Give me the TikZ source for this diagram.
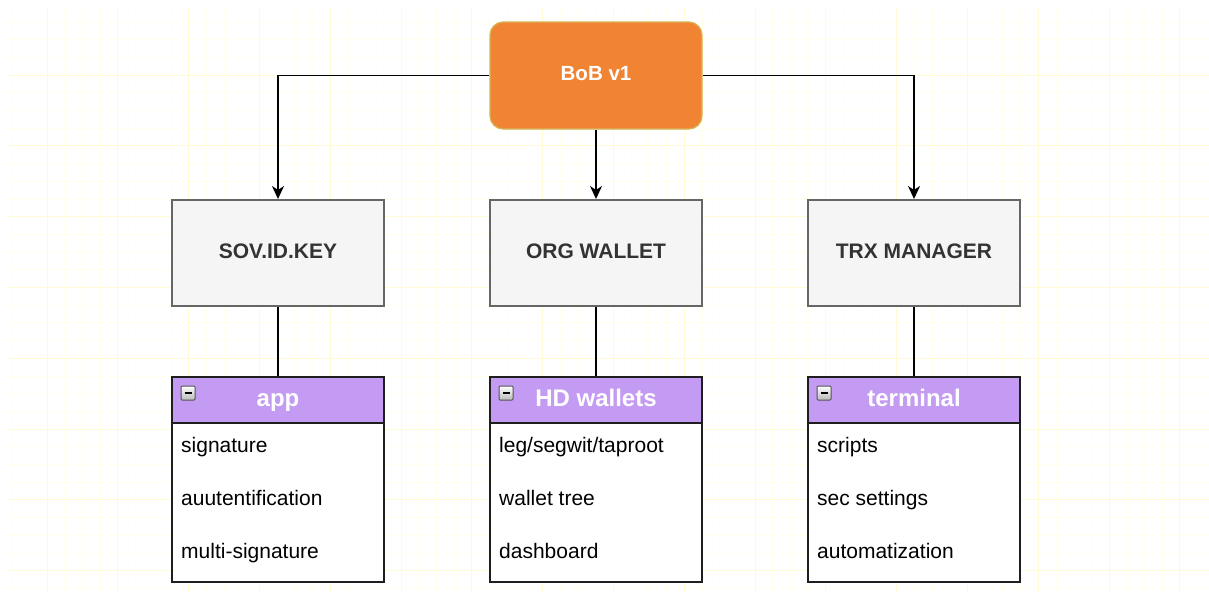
\documentclass[tikz,border=0pt]{standalone}
\usepackage{fontspec}
\setmainfont{Liberation Sans}
\usetikzlibrary{arrows.meta}

\definecolor{bobfill}{RGB}{240,132,51}
\definecolor{bobline}{RGB}{214,182,86}
\definecolor{modfill}{RGB}{245,245,245}
\definecolor{modline}{RGB}{102,102,102}
\definecolor{modtext}{RGB}{51,51,51}
\definecolor{headfill}{RGB}{196,155,242}
\definecolor{listline}{RGB}{30,30,30}
\definecolor{gridminor}{RGB}{255,255,236}
\definecolor{gridmajor}{RGB}{255,252,212}

\tikzset{
  topbox/.style={draw=bobline, fill=bobfill, rounded corners=13pt, line width=1.2pt,
    minimum width=212pt, minimum height=107pt, inner sep=0pt, text=white,
    text height=14.8pt, text depth=4.1pt,
    font=\fontsize{20.5}{24}\selectfont\bfseries},
  modbox/.style={draw=modline, fill=modfill, line width=2pt,
    minimum width=212pt, minimum height=106pt, inner sep=0pt, text=modtext,
    text height=15.1pt, text depth=4.2pt,
    font=\fontsize{21}{25}\selectfont\bfseries},
  listhead/.style={draw=listline, fill=headfill, line width=2pt,
    minimum width=212pt, minimum height=46pt, inner sep=0pt, text=white,
    text height=17.3pt, text depth=4.8pt,
    font=\fontsize{24}{28}\selectfont\bfseries},
  listbody/.style={draw=listline, fill=white, line width=2pt,
    minimum width=212pt, minimum height=159pt, inner sep=0pt},
  listitem/.style={anchor=base west, inner sep=0pt, text=black,
    font=\fontsize{21}{25}\selectfont},
  foldicon/.style={draw=gray!65!black, line width=1pt, top color=white,
    bottom color=gray!55, minimum size=14pt, inner sep=0pt, rounded corners=1pt,
    path picture={\draw[line width=2pt, black]
      ([xshift=3.5pt]path picture bounding box.west) --
      ([xshift=-3.5pt]path picture bounding box.east);}},
  link/.style={line width=1.8pt, black},
  arr/.style={link, -{Stealth[length=13pt, width=12pt, inset=4pt]}},
  gminor/.style={gridminor, line width=0.7pt},
  gmajor/.style={gridmajor, line width=0.9pt},
}

\begin{document}
\begin{tikzpicture}[x=1pt, y=-1pt]
  \useasboundingbox (0,0) rectangle (1209,592);
  \fill[white] (0,0) rectangle (1209,592);

  % background grid
  \foreach \i in {-2,...,65} {
    \pgfmathsetmacro\gx{47+17.7*\i}
    \draw[gminor] (\gx,8) -- (\gx,592);
  }
  \foreach \i in {-3,...,29} {
    \pgfmathsetmacro\gy{75+17.7*\i}
    \draw[gminor] (8,\gy) -- (1209,\gy);
  }
  \foreach \i in {0,...,16} {
    \pgfmathsetmacro\gx{47+70.8*\i}
    \draw[gmajor] (\gx,8) -- (\gx,592);
  }
  \foreach \i in {0,...,7} {
    \pgfmathsetmacro\gy{75+70.8*\i}
    \draw[gmajor] (8,\gy) -- (1209,\gy);
  }

  % root
  \node[topbox] (bob) at (596,75.5) {BoB v1};

  % modules
  \node[modbox] (sov) at (278,253) {SOV.ID.KEY};
  \node[modbox] (org) at (596,253) {ORG WALLET};
  \node[modbox] (trx) at (914,253) {TRX MANAGER};

  % lists
  \node[listbody] (appbody) at (278,502.5) {};
  \node[listhead] (apphead) at (278,400) {app};
  \node[foldicon] (appicon) at (188,393) {};
  \node[listitem] (app1) at (181,452) {signature};
  \node[listitem] (app2) at (181,505) {auutentification};
  \node[listitem] (app3) at (181,558) {multi-signature};

  \node[listbody] (hdbody) at (596,502.5) {};
  \node[listhead] (hdhead) at (596,400) {HD wallets};
  \node[foldicon] (hdicon) at (506,393) {};
  \node[listitem] (hd1) at (499,452) {leg/segwit/taproot};
  \node[listitem] (hd2) at (499,505) {wallet tree};
  \node[listitem] (hd3) at (499,558) {dashboard};

  \node[listbody] (termbody) at (914,502.5) {};
  \node[listhead] (termhead) at (914,400) {terminal};
  \node[foldicon] (termicon) at (824,393) {};
  \node[listitem] (term1) at (817,452) {scripts};
  \node[listitem] (term2) at (817,505) {sec settings};
  \node[listitem] (term3) at (817,558) {automatization};

  % connectors
  \draw[arr] (bob.west) -| (sov.north);
  \draw[arr] (bob.south) -- (org.north);
  \draw[arr] (bob.east) -| (trx.north);

  \draw[link] (sov.south) -- (apphead.north);
  \draw[link] (org.south) -- (hdhead.north);
  \draw[link] (trx.south) -- (termhead.north);
\end{tikzpicture}
\end{document}
